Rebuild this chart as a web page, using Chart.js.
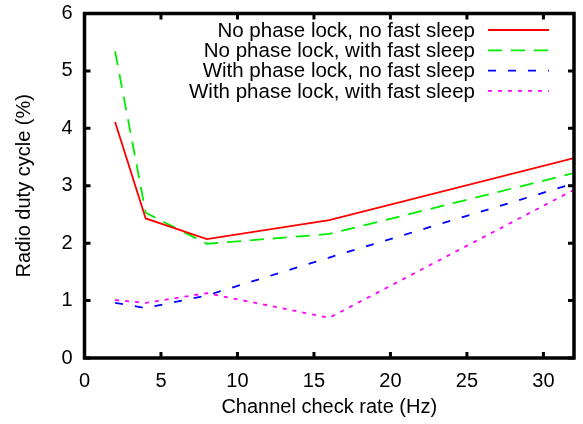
<!DOCTYPE html>
<html>
<head>
<meta charset="utf-8">
<script src="https://cdn.jsdelivr.net/npm/chart.js@4/dist/chart.umd.min.js"></script>
<style>
  html, body { margin: 0; padding: 0; background: #fff; }
  #wrap { width: 583px; height: 424px; }
</style>
</head>
<body>
<div id="wrap"><canvas id="c"></canvas></div>
<script>
// チャネルチェックレート (Hz)
const rates = [2, 4, 8, 16, 32];

// 無線デューティサイクル (%)
const noLockNoFast = [4.11, 2.43, 2.07, 2.40, 3.48];
const noLockFast = [5.34, 2.53, 1.99, 2.16, 3.22];
const lockNoFast = [0.96, 0.87, 1.09, 1.75, 3.04];
const lockFast = [1.01, 0.96, 1.13, 0.70, 2.93];

const seriesNames = [
  'No phase lock, no fast sleep',
  'No phase lock, with fast sleep',
  'With phase lock, no fast sleep',
  'With phase lock, with fast sleep',
];

const xTicks = [0, 5, 10, 15, 20, 25, 30];
const yTicks = [0, 1, 2, 3, 4, 5, 6];

const FONT = 'Liberation Sans, Arial, Helvetica, sans-serif';

const toPts = ys => ys.map((y, i) => ({ x: rates[i], y }));

// gnuplot風の枠と内向きの目盛り
const framePlugin = {
  id: 'frame',
  afterDraw(chart) {
    const { ctx, chartArea: a, scales } = chart;
    ctx.save();
    ctx.strokeStyle = '#000';
    ctx.lineWidth = 3.5;
    ctx.lineCap = 'square';
    ctx.strokeRect(a.left, a.top, a.right - a.left, a.bottom - a.top);
    const len = 6;
    ctx.lineWidth = 3;
    ctx.lineCap = 'butt';
    ctx.beginPath();
    xTicks.forEach(v => {
      const px = scales.x.getPixelForValue(v);
      ctx.moveTo(px, a.bottom); ctx.lineTo(px, a.bottom - len);
      ctx.moveTo(px, a.top); ctx.lineTo(px, a.top + len);
    });
    yTicks.forEach(v => {
      const py = scales.y.getPixelForValue(v);
      ctx.moveTo(a.left, py); ctx.lineTo(a.left + len, py);
      ctx.moveTo(a.right, py); ctx.lineTo(a.right - len, py);
    });
    ctx.stroke();
    ctx.restore();
  },
};

// 凡例（プロット内の右上）
const legendPlugin = {
  id: 'insideLegend',
  afterDraw(chart) {
    const { ctx, chartArea: a } = chart;
    ctx.save();
    ctx.font = '20.5px ' + FONT;
    ctx.textAlign = 'right';
    ctx.textBaseline = 'middle';
    chart.data.datasets.forEach((ds, i) => {
      const y = a.top + 16.5 + i * 20.3;
      ctx.fillStyle = '#000';
      ctx.fillText(ds.label, a.right - 99, y + 1);
      ctx.strokeStyle = ds.borderColor;
      ctx.lineWidth = ds.borderWidth;
      ctx.setLineDash(ds.borderDash || []);
      ctx.beginPath();
      ctx.moveTo(a.right - 86, y);
      ctx.lineTo(a.right - 25, y);
      ctx.stroke();
    });
    ctx.restore();
  },
};

const mk = (label, data, color, dash) => ({
  label,
  data: toPts(data),
  borderColor: color,
  backgroundColor: color,
  borderWidth: 1.8,
  borderDash: dash,
  pointRadius: 0,
  tension: 0,
  fill: false,
});

new Chart(document.getElementById('c'), {
  type: 'line',
  data: {
    datasets: [
      mk(seriesNames[0], noLockNoFast, '#ff0000', []),
      mk(seriesNames[1], noLockFast, '#00ee00', [14, 9]),
      mk(seriesNames[2], lockNoFast, '#0000ff', [8, 12]),
      mk(seriesNames[3], lockFast, '#ff00ff', [4, 6]),
    ],
  },
  options: {
    responsive: true,
    maintainAspectRatio: false,
    animation: false,
    layout: { padding: { left: 0, right: 9, top: 13.5, bottom: 0 } },
    plugins: {
      legend: { display: false },
      tooltip: { enabled: false },
    },
    scales: {
      x: {
        type: 'linear',
        min: 0,
        max: 32,
        afterBuildTicks: s => { s.ticks = xTicks.map(v => ({ value: v })); },
        afterFit: s => { s.height = 66; s.paddingLeft = 0; s.paddingRight = 0; },
        grid: { display: false, drawTicks: false },
        border: { display: false },
        ticks: { color: '#000', font: { family: FONT, size: 20 }, padding: 11, maxRotation: 0 },
        title: {
          display: true,
          text: 'Channel check rate (Hz)',
          color: '#000',
          font: { family: FONT, size: 20 },
          padding: { top: 0, bottom: 5 },
        },
      },
      y: {
        min: 0,
        max: 6,
        afterBuildTicks: s => { s.ticks = yTicks.map(v => ({ value: v })); },
        afterFit: s => { s.width = 84.5; s.paddingTop = 0; s.paddingBottom = 0; },
        grid: { display: false, drawTicks: false },
        border: { display: false },
        ticks: { color: '#000', font: { family: FONT, size: 20 }, padding: 12 },
        title: {
          display: true,
          text: 'Radio duty cycle (%)',
          color: '#000',
          font: { family: FONT, size: 20 },
          padding: { top: 12, bottom: 0 },
        },
      },
    },
  },
  plugins: [framePlugin, legendPlugin],
});
</script>
</body>
</html>
